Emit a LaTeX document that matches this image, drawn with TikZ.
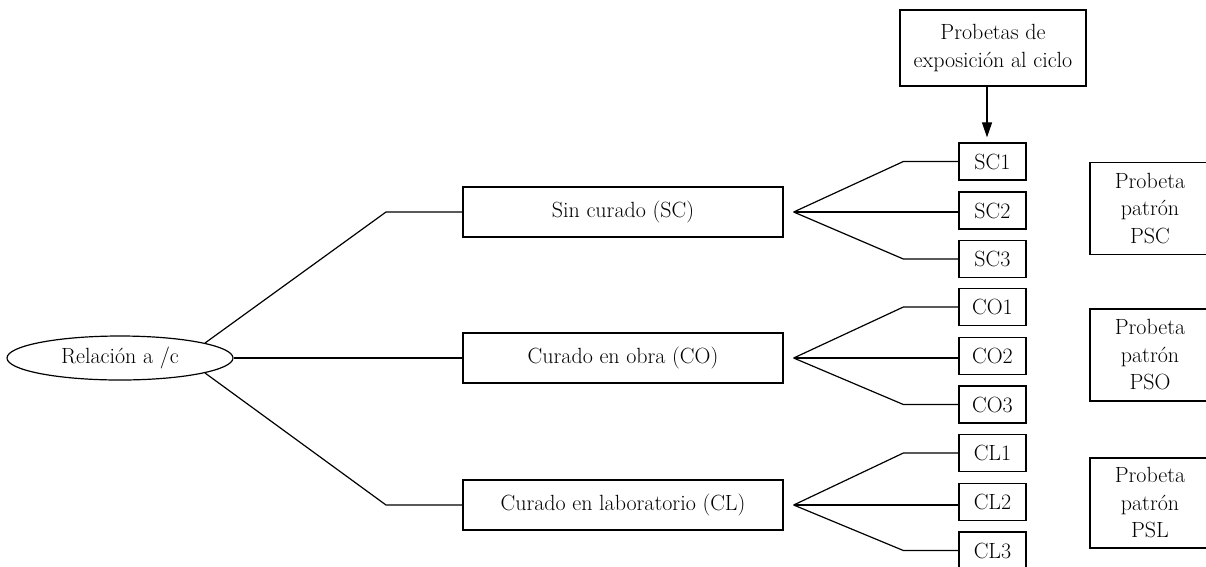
\documentclass[tikz,border=0pt]{standalone}
\usetikzlibrary{arrows.meta,shapes.geometric,calc}
\begin{document}
\begin{tikzpicture}[x=1pt,y=-1pt,
  every node/.style={font=\fontsize{22}{27.5}\selectfont},
  box/.style={draw, line width=1.3pt, inner sep=0pt, align=center},
  midbox/.style={box, minimum width=320pt, minimum height=50pt},
  smallbox/.style={box, minimum width=67pt, minimum height=37pt},
  refbox/.style={box, minimum width=120pt, minimum height=92pt},
  link/.style={line width=1.2pt}]
\useasboundingbox (0,0) rectangle (1206,566);
% root
\node[ellipse, draw, line width=1.2pt, minimum width=226pt, minimum height=44pt, inner sep=0pt] (rel) at (120,358) {Relación a /c};
% middle boxes
\node[midbox] (sc) at (623,212) {Sin curado (SC)};
\node[midbox] (co) at (623,358) {Curado en obra (CO)};
\node[midbox] (cl) at (623,505) {Curado en laboratorio (CL)};
% top box
\node[box, minimum width=186pt, minimum height=76pt] (top) at (993,48) {Probetas de\\exposición al ciclo};
% small boxes
\node[smallbox] (sc1) at (992.5,161.5) {SC1};
\node[smallbox] (sc2) at (992.5,210.5) {SC2};
\node[smallbox] (sc3) at (992.5,259) {SC3};
\node[smallbox] (co1) at (992.5,307) {CO1};
\node[smallbox] (co2) at (992.5,356) {CO2};
\node[smallbox] (co3) at (992.5,404.5) {CO3};
\node[smallbox] (cl1) at (992.5,453) {CL1};
\node[smallbox] (cl2) at (992.5,502) {CL2};
\node[smallbox] (cl3) at (992.5,550.5) {CL3};
% reference boxes
\node[refbox] (psc) at (1150,208.5) {Probeta\\patrón\\PSC};
\node[refbox] (pso) at (1150,355) {Probeta\\patrón\\PSO};
\node[refbox, minimum height=90pt] (psl) at (1150,503) {Probeta\\patrón\\PSL};
% root links
\coordinate (ka) at (386,212);
\coordinate (kc) at (386,505);
\draw[link] (rel.10) -- (ka) -- (sc.west);
\draw[link] (rel.east) -- (co.west);
\draw[link] (rel.-10) -- (kc) -- (cl.west);
% fans
\foreach \m/\a/\b/\c in {sc/sc1/sc2/sc3, co/co1/co2/co3, cl/cl1/cl2/cl3}{
  \coordinate (apex\m) at ([xshift=10pt]\m.east);
  \draw[link] (apex\m) -- ([xshift=-55pt]\a.west) -- (\a.west);
  \draw[link] (apex\m) -- (apex\m -| \b.west);
  \draw[link] (apex\m) -- ([xshift=-55pt]\c.west) -- (\c.west);
}
% arrow
\draw[link, shorten >=5pt, -{Triangle[width=10pt,length=15pt]}] ([xshift=-6pt]top.south) -- ([xshift=-5.5pt]sc1.north);
\end{tikzpicture}
\end{document}
